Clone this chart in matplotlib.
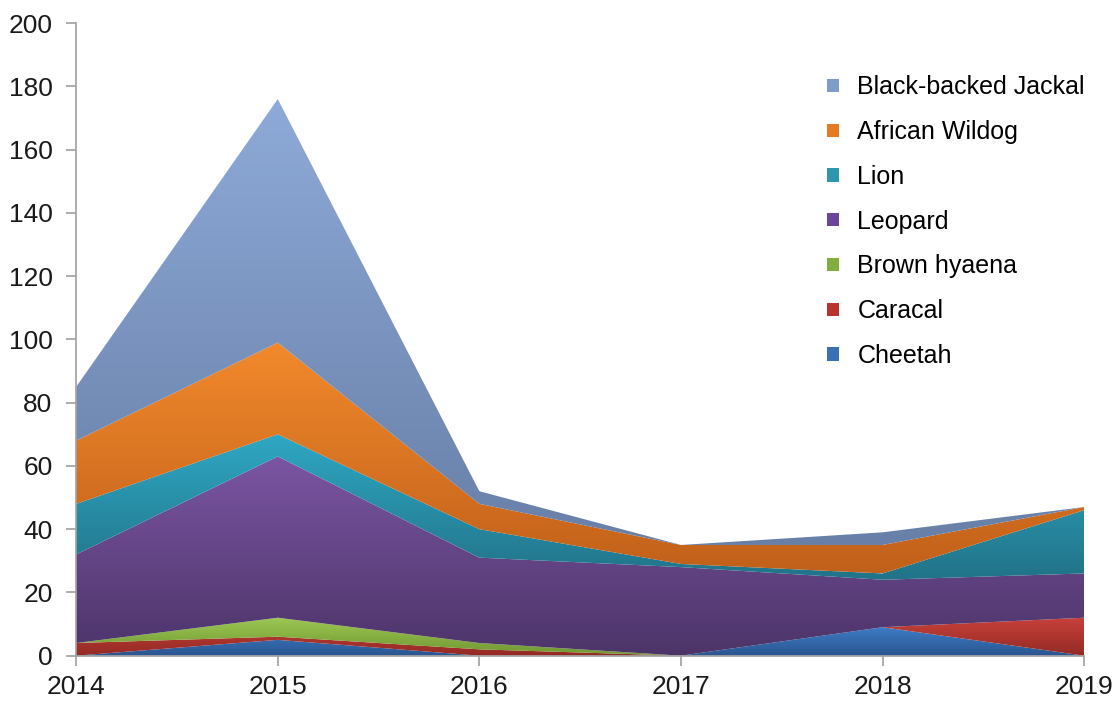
import numpy as np
import matplotlib
matplotlib.use('Agg')
import matplotlib.pyplot as plt
from matplotlib.colors import LinearSegmentedColormap
from matplotlib.patches import Patch

plt.rcParams['font.family'] = ['Liberation Sans', 'DejaVu Sans']

years = [2014, 2015, 2016, 2017, 2018, 2019]

# series, bottom of the stack first
species = ['Cheetah', 'Caracal', 'Brown hyaena', 'Leopard', 'Lion',
           'African Wildog', 'Black-backed Jackal']
cheetah = [0, 5, 0, 0, 9, 0]
caracal = [4, 1, 2, 0, 0, 12]
brown_hyaena = [0, 6, 2, 0, 0, 0]
leopard = [28, 51, 27, 28, 15, 14]
lion = [16, 7, 9, 1, 2, 20]
wildog = [20, 29, 8, 6, 9, 1]
jackal = [17, 77, 4, 0, 4, 0]

# (top colour, bottom colour) for each band
shades = [('#3d7cc4', '#2a5590'),
          ('#c8403a', '#932a24'),
          ('#9cc752', '#6f9632'),
          ('#7b55a3', '#4c3468'),
          ('#2fa8c4', '#217388'),
          ('#f28a2c', '#c1601a'),
          ('#8eaad8', '#6880a8')]
legend_cols = ['#3b6fb6', '#b8332e', '#82ad3f', '#6c4696', '#2d97b0', '#e57a25', '#7f9bc9']

fig = plt.figure(figsize=(11.2, 7.02), dpi=100)
ax = fig.add_axes([0.068, 0.066, 0.9, 0.901])

series = [cheetah, caracal, brown_hyaena, leopard, lion, wildog, jackal]
base = np.zeros(len(years))
for vals, (c_top, c_bot) in zip(series, shades):
    top = base + np.array(vals, dtype=float)
    poly = ax.fill_between(years, base, top, facecolor='none', edgecolor='none')
    path = poly.get_paths()[0]
    ymax = top.max()
    ymin = base.min()
    # vertical gradient, clipped to the band
    cmap = LinearSegmentedColormap.from_list('g', [c_bot, c_top])
    grad = np.linspace(0, 1, 256).reshape(-1, 1)
    im = ax.imshow(grad, cmap=cmap, origin='lower', aspect='auto',
                   extent=[years[0], years[-1], ymin, max(ymax, ymin + 1)],
                   interpolation='bicubic', zorder=1)
    im.set_clip_path(path, transform=ax.transData)
    base = top

ax.set_xlim(2014, 2019)
ax.set_ylim(0, 200)
ax.set_xticks(years)
ax.set_yticks(np.arange(0, 201, 20))
ax.tick_params(axis='both', labelsize=19, colors='#a0a0a0', labelcolor='#1a1a1a',
               length=7, width=1.2, direction='out')
ax.tick_params(axis='x', pad=7)
ax.tick_params(axis='y', pad=10)
for s in ['top', 'right']:
    ax.spines[s].set_visible(False)
for s in ['left', 'bottom']:
    ax.spines[s].set_color('#a0a0a0')
    ax.spines[s].set_linewidth(1.2)

handles = [Patch(facecolor=c, edgecolor='none') for c in legend_cols[::-1]]
ax.legend(handles, species[::-1], loc='upper left', bbox_to_anchor=(0.723, 0.953),
          frameon=False, fontsize=18, handlelength=0.45, handleheight=0.45,
          handletextpad=0.75, labelspacing=0.83)

fig.savefig('out.png', dpi=100)
